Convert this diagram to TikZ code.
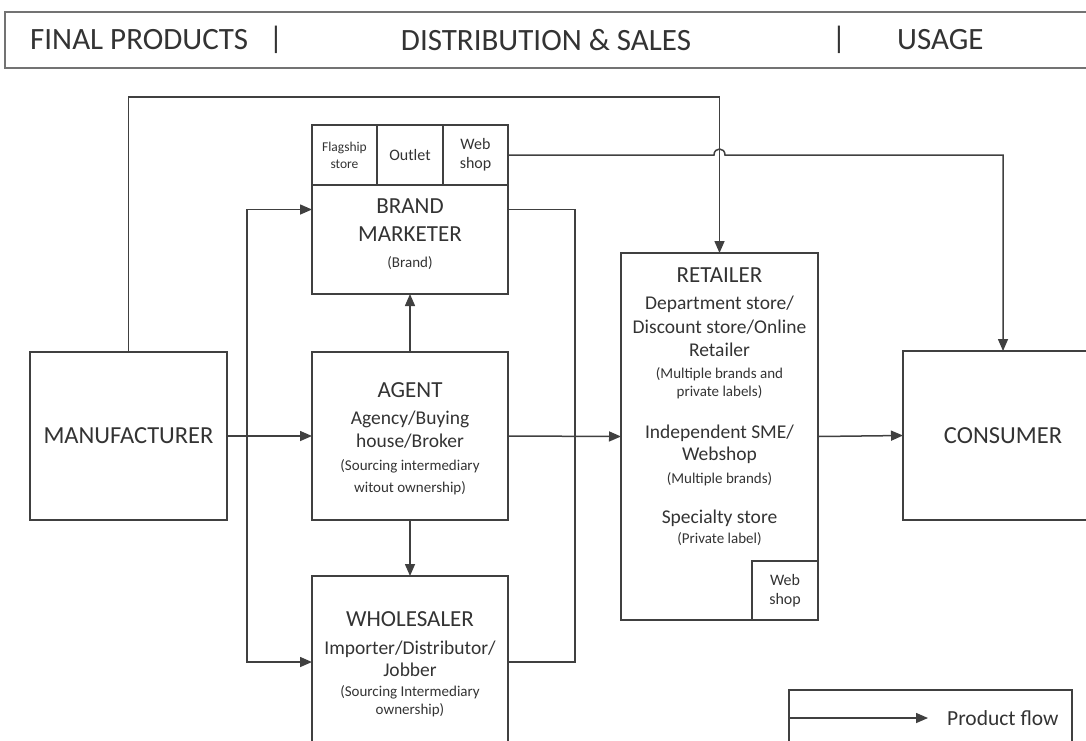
\documentclass[tikz,border=0pt]{standalone}
\usepackage{fontspec}
\setmainfont{Carlito}
\usetikzlibrary{positioning,arrows.meta}

\begin{document}
\begin{tikzpicture}[x=1pt,y=-1pt,
  box/.style={draw=black!75,line width=1.5pt,rectangle,inner sep=0pt,outer sep=0pt,text=black!80,align=center},
  flow/.style={draw=black!75,line width=1.5pt,-{Triangle[length=12pt,width=10pt]}},
  link/.style={draw=black!75,line width=1.5pt},
  txt/.style={text=black!80,align=center,inner sep=0pt},
  ttl/.style={font=\fontsize{23}{28}\selectfont},
  big/.style={font=\fontsize{24.5}{29}\selectfont},
  sub/.style={font=\fontsize{19.5}{23}\selectfont},
  hdr/.style={text=black!80,inner sep=0pt,font=\fontsize{31}{37}\selectfont}]
\useasboundingbox (0,0) rectangle (1086,740);

\node[box,draw=black!55,minimum width=1100pt,minimum height=56pt,anchor=north west] (header) at (5,12) {};
\node[hdr,anchor=west] (hfinal) at (30,40) {FINAL PRODUCTS};
\node[hdr] (hbar1) at (276,40) {|};
\node[hdr] (hdist) at (546,40) {DISTRIBUTION \& SALES};
\node[hdr] (hbar2) at (839,40) {|};
\node[hdr,anchor=west] (husage) at (897,40) {USAGE};

\node[box,big,minimum width=197pt,minimum height=168pt] (manu) at (128.5,436) {MANUFACTURER};

\node[box,minimum width=196pt,minimum height=169pt] (brand) at (410,209.5) {};
\node[box,minimum width=65pt,minimum height=60pt,anchor=north west,font=\fontsize{13.5}{17}\selectfont] (flagship) at (312,125) {Flagship\\store};
\node[box,minimum width=66pt,minimum height=60pt,right=0pt of flagship,font=\fontsize{16}{19}\selectfont] (outlet) {Outlet};
\node[box,minimum width=65pt,minimum height=60pt,right=0pt of outlet,font=\fontsize{16}{19}\selectfont] (webshop) {Web\\shop};
\node[txt,ttl] (brandtxt) at (410,234) {BRAND\\MARKETER\\[-2pt]{\fontsize{15}{20}\selectfont (Brand)}};

\node[box,sub,minimum width=196pt,minimum height=168pt] (agent) at (410,436) {};
\node[txt,sub] (agenttxt) at (410,438.5)
  {{\fontsize{23}{28}\selectfont AGENT}\\[4pt]Agency/Buying\\house/Broker\\{\fontsize{15}{20}\selectfont (Sourcing intermediary}\\[-1pt]{\fontsize{15}{20}\selectfont witout ownership)}};

\node[box,sub,minimum width=196pt,minimum height=172pt] (wholesaler) at (410,662) {};
\node[txt,sub] (wholetxt) at (410,664)
  {{\fontsize{23}{28}\selectfont WHOLESALER}\\[5pt]Importer/Distributor/\\[-1pt]Jobber\\[-3pt]{\fontsize{15}{20}\selectfont (Sourcing Intermediary}\\[-5pt]{\fontsize{15}{20}\selectfont ownership)}};

\node[box,minimum width=197pt,minimum height=367pt] (retailer) at (719.5,436.5) {};
\node[txt,sub] (retailtxt) at (719.5,406.5)
  {{\fontsize{23}{28}\selectfont RETAILER}\\[4pt]Department store/\\[1pt]Discount store/Online\\Retailer\\[-1pt]{\fontsize{15}{20}\selectfont (Multiple brands and}\\[-5pt]{\fontsize{15}{20}\selectfont private labels)}\\[19pt]Independent SME/\\[-1pt]Webshop\\{\fontsize{15}{20}\selectfont (Multiple brands)}\\[17pt]Specialty store\\[-3pt]{\fontsize{15}{20}\selectfont (Private label)}};
\node[box,minimum width=66pt,minimum height=59pt,anchor=south east,font=\fontsize{16}{19}\selectfont] (retweb) at (retailer.south east) {Web\\shop};

\node[box,big,minimum width=200pt,minimum height=169pt] (consumer) at (1003,435.5) {CONSUMER};

\node[box,minimum width=283pt,minimum height=80pt,anchor=north west] (legend) at (789,690) {};
\coordinate (lgA) at (789,718);
\coordinate (lgB) at (928,718);
\node[txt,anchor=west,font=\fontsize{21.5}{25}\selectfont] (lgtxt) at (947,718) {Product flow};
\draw[flow] (lgA) -- (lgB);

\coordinate (mtop) at (128.5,97);
\coordinate (split) at (247,436);
\draw[flow] (manu.north) -- (mtop) -| (retailer.north);
\draw[flow] (webshop.east) -- (714,155) .. controls (714,147) and (725,147) .. (725,155) -| (consumer.north);
\draw[flow] (manu.east) -- (agent.west);
\draw[flow] (split) |- (brand.west);
\draw[flow] (split) |- (wholesaler.west);
\draw[link] (brand.east) -- ++(67,0) |- (wholesaler.east);
\draw[flow] (agent.north) -- (brand.south);
\draw[flow] (agent.south) -- (wholesaler.north);
\draw[flow] (agent.east) -- (retailer.west);
\draw[flow] (retailer.east) -- (consumer.west);

\end{tikzpicture}
\end{document}
